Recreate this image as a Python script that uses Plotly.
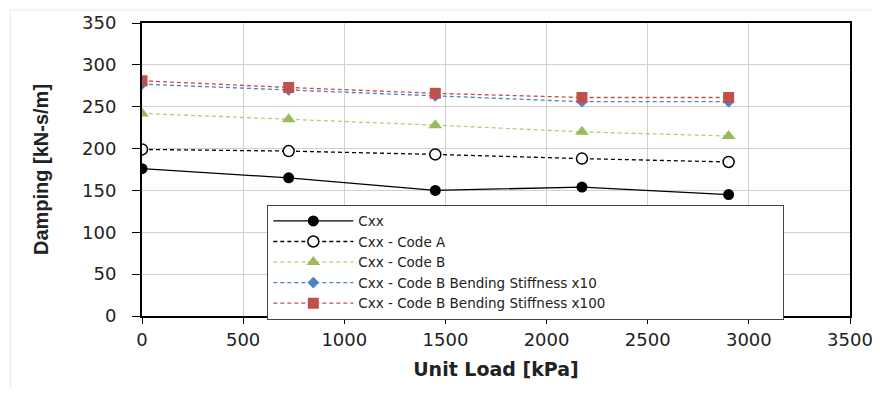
import plotly.graph_objects as go

unit_load = [0, 725, 1450, 2175, 2900]
cxx = [176, 165, 150, 154, 145]
cxx_code_a = [199, 197, 193, 188, 184]
cxx_code_b = [242, 235, 228, 220, 215]
cxx_b_x10 = [277, 270, 263, 256, 256]
cxx_b_x100 = [281, 273, 266, 261, 261]

x_ticks = [0, 500, 1000, 1500, 2000, 2500, 3000, 3500]
y_ticks = [0, 50, 100, 150, 200, 250, 300, 350]

fig = go.Figure()
fig.add_trace(go.Scatter(x=unit_load, y=cxx, name="Cxx", mode="lines+markers",
                         line=dict(color="black", width=1.3),
                         marker=dict(symbol="circle", size=11, color="black")))
fig.add_trace(go.Scatter(x=unit_load, y=cxx_code_a, name="Cxx - Code A", mode="lines+markers",
                         line=dict(color="black", width=1.3, dash="4px,3px"),
                         marker=dict(symbol="circle", size=11, color="white",
                                     line=dict(color="black", width=1.5))))
fig.add_trace(go.Scatter(x=unit_load, y=cxx_code_b, name="Cxx - Code B", mode="lines+markers",
                         line=dict(color="#B5CC7A", width=1.3, dash="4px,3px"),
                         marker=dict(symbol="triangle-up", size=12, color="#9BBB59")))
fig.add_trace(go.Scatter(x=unit_load, y=cxx_b_x10, name="Cxx - Code B Bending Stiffness x10",
                         mode="lines+markers",
                         line=dict(color="#4F81BD", width=1.3, dash="4px,3px"),
                         marker=dict(symbol="diamond", size=9, color="#4F81BD")))
fig.add_trace(go.Scatter(x=unit_load, y=cxx_b_x100, name="Cxx - Code B Bending Stiffness x100",
                         mode="lines+markers",
                         line=dict(color="#C0504D", width=1.3, dash="4px,3px"),
                         marker=dict(symbol="square", size=11, color="#C0504D")))

# page body has an 8px margin; compensate so plot area lands at x 142-850, y 23-316
fig.update_layout(
    width=872, height=379,
    margin=dict(l=134, r=30, t=15, b=71, autoexpand=False),
    paper_bgcolor="white", plot_bgcolor="white",
    font=dict(family="DejaVu Sans, Arial, sans-serif", color="#222"),
    showlegend=True,
    legend=dict(x=0.177, y=0.38, xanchor="left", yanchor="top", orientation="h",
                bgcolor="white", bordercolor="#444", borderwidth=1,
                font=dict(size=13.5, color="#222"), tracegroupgap=0,
                itemwidth=80, entrywidth=420, entrywidthmode="pixels"),
    shapes=[dict(type="rect", xref="paper", yref="paper", x0=-0.186, x1=1.2, y0=-0.4, y1=1.044,
                 line=dict(color="#e8e8e8", width=1), layer="below")],
)
fig.update_xaxes(range=[0, 3500], tickvals=x_ticks, ticktext=[str(v) for v in x_ticks],
                 automargin=False,
                 showgrid=True, gridcolor="#d0d0d0", gridwidth=1,
                 showline=True, linecolor="black", linewidth=2, mirror=True,
                 ticks="outside", ticklen=6, tickcolor="black",
                 tickfont=dict(size=18, color="#222"), zeroline=False,
                 title=dict(text="<b>Unit Load [kPa]</b>", font=dict(size=19, color="#222"), standoff=14))
fig.update_yaxes(range=[0, 350], tickvals=y_ticks, ticktext=[str(v) for v in y_ticks],
                 automargin=False,
                 showgrid=True, gridcolor="#d0d0d0", gridwidth=1,
                 showline=True, linecolor="black", linewidth=2, mirror=True,
                 ticks="outside", ticklen=8, tickcolor="black", ticklabelstandoff=12,
                 tickfont=dict(size=18, color="#222"), zeroline=False,
                 title=dict(text="<b>Damping [kN-s/m]</b>",
                            font=dict(size=20, color="#222", family="Liberation Sans Narrow, Arial, sans-serif"),
                            standoff=28))

fig.write_html("out.html")
